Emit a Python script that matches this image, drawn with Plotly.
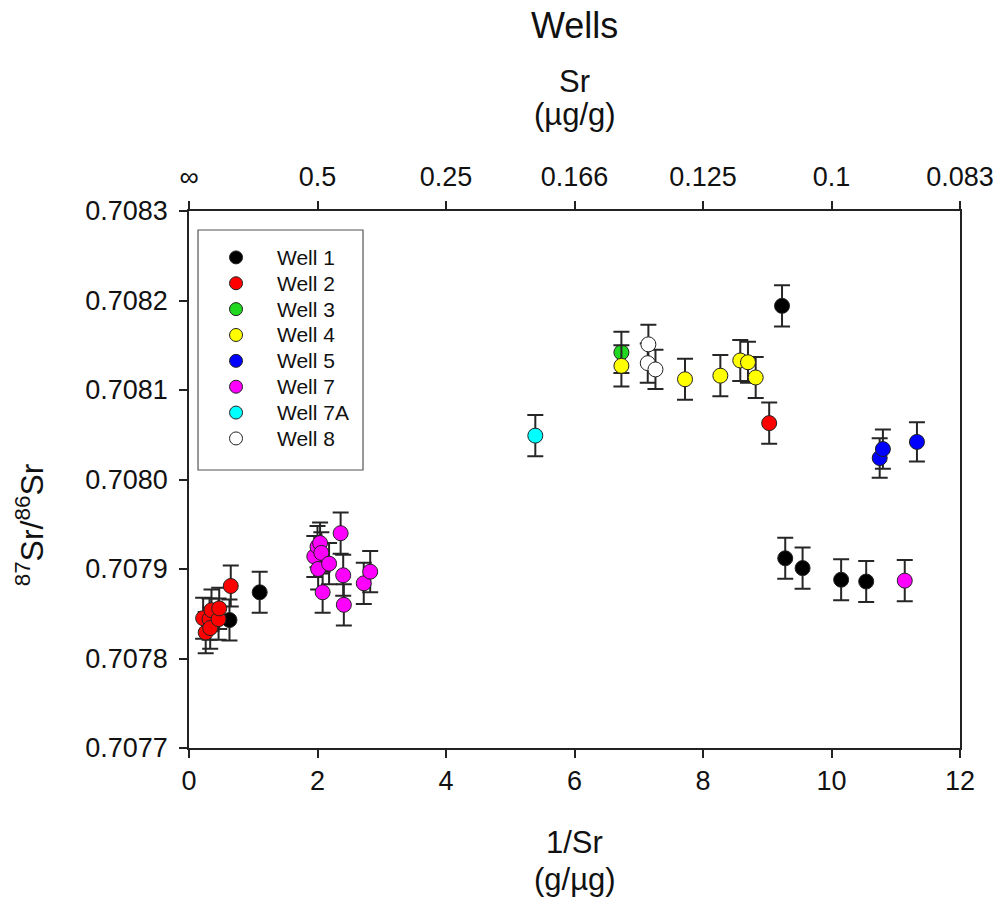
import plotly.graph_objects as go

# 1/Sr (g/ug) and 87Sr/86Sr with 1-sigma errors, per well
well1_x = [0.63, 1.10, 9.23, 9.28, 9.55, 10.15, 10.54]
well1_y = [0.707843, 0.707874, 0.708194, 0.707912, 0.707901, 0.707888, 0.707886]
well1_e = [0.000023, 0.000023, 0.000023, 0.000023, 0.000023, 0.000023, 0.000023]

well2_x = [0.22, 0.26, 0.32, 0.33, 0.35, 0.46, 0.47, 0.65, 9.03]
well2_y = [0.707845, 0.707829, 0.707844, 0.707834, 0.707854, 0.707844, 0.707856, 0.707881, 0.708063]
well2_e = [0.000023] * 9

well3_x = [6.73]
well3_y = [0.708142]
well3_e = [0.000023]

well4_x = [6.73, 7.72, 8.27, 8.58, 8.70, 8.82]
well4_y = [0.708127, 0.708112, 0.708116, 0.708133, 0.708131, 0.708114]
well4_e = [0.000023] * 6

well5_x = [10.75, 10.80, 11.33]
well5_y = [0.708024, 0.708034, 0.708042]
well5_e = [0.000022, 0.000022, 0.000022]

well7_x = [1.95, 2.00, 2.01, 2.04, 2.06, 2.08, 2.18, 2.36, 2.40, 2.41, 2.72, 2.82, 11.14]
well7_y = [0.707914, 0.707925, 0.707900, 0.707929, 0.707918, 0.707874, 0.707906,
           0.707940, 0.707893, 0.707860, 0.707884, 0.707897, 0.707887]
well7_e = [0.000023] * 13

well7a_x = [5.39]
well7a_y = [0.708049]
well7a_e = [0.000023]

well8_x = [7.14, 7.15, 7.26]
well8_y = [0.708130, 0.708151, 0.708123]
well8_e = [0.000022, 0.000022, 0.000022]

x_ticks = [0, 2, 4, 6, 8, 10, 12]
sr_tick_labels = ["∞", "0.5", "0.25", "0.166", "0.125", "0.1", "0.083"]
y_ticks = [0.7077, 0.7078, 0.7079, 0.7080, 0.7081, 0.7082, 0.7083]

series = [
    ("Well 1", well1_x, well1_y, well1_e, "#000000"),
    ("Well 2", well2_x, well2_y, well2_e, "#ff0000"),
    ("Well 3", well3_x, well3_y, well3_e, "#1fd81f"),
    ("Well 4", well4_x, well4_y, well4_e, "#ffff00"),
    ("Well 5", well5_x, well5_y, well5_e, "#0000ff"),
    ("Well 7", well7_x, well7_y, well7_e, "#ff00ff"),
    ("Well 7A", well7a_x, well7a_y, well7a_e, "#00ffff"),
    ("Well 8", well8_x, well8_y, well8_e, "#ffffff"),
]

FONT = "Liberation Sans, Arial, sans-serif"
INK = "#222222"
TXT = "#111111"

fig = go.Figure()
for name, xs, ys, es, color in series:
    fig.add_trace(go.Scatter(
        x=xs, y=ys, mode="markers", name=name, showlegend=False,
        marker=dict(size=15, color=color, line=dict(color="#222222", width=1)),
        error_y=dict(type="data", array=es, visible=True, color="#262626",
                     thickness=2, width=8),
    ))

# invisible trace that carries the top Sr axis
fig.add_trace(go.Scatter(x=[x_ticks[0], x_ticks[-1]], y=[y_ticks[0], y_ticks[0]],
                         xaxis="x2", mode="markers", marker=dict(opacity=0),
                         showlegend=False, hoverinfo="skip"))

axis_common = dict(showline=True, linecolor=INK, linewidth=1.5, ticks="outside",
                   ticklen=8, tickwidth=1.5, tickcolor=INK, showgrid=False,
                   zeroline=False, automargin=False,
                   tickfont=dict(family=FONT, size=27, color=TXT))


def label(text, x, y, size, angle=0, xanchor="center"):
    return dict(text=text, xref="paper", yref="paper", x=x, y=y,
                xanchor=xanchor, yanchor="middle", textangle=angle,
                showarrow=False, font=dict(family=FONT, size=size, color=TXT))


# boxed key in the upper-left corner of the plot area
key_box = dict(type="rect", xref="paper", yref="paper",
               x0=0.0117, x1=0.2257, y0=0.5177, y1=0.9646,
               line=dict(color="#555555", width=1.2), fillcolor="rgba(0,0,0,0)")
key_top, key_step = 0.9136, 0.04816
key_shapes, key_labels = [], []
for i, (name, _, _, _, color) in enumerate(series):
    yk = key_top - i * key_step
    key_shapes.append(dict(type="circle", xref="paper", yref="paper",
                           xsizemode="pixel", ysizemode="pixel",
                           xanchor=0.061, yanchor=yk, x0=-6.5, x1=6.5, y0=-6.5, y1=6.5,
                           fillcolor=color, line=dict(color="#222222", width=1)))
    key_labels.append(label(name, 0.1115, yk, 21, xanchor="left"))

fig.update_layout(
    width=1000, height=905,
    margin=dict(l=189, r=40, t=211, b=157),
    paper_bgcolor="white", plot_bgcolor="white",
    font=dict(family=FONT, color=TXT),
    showlegend=False,
    xaxis=dict(range=[0, 12], tickvals=x_ticks, mirror=True, **axis_common),
    xaxis2=dict(range=[0, 12], tickvals=x_ticks, ticktext=sr_tick_labels,
                overlaying="x", side="top", ticklabelstandoff=4, **axis_common),
    yaxis=dict(range=[0.7077, 0.7083], tickvals=y_ticks, tickformat=".4f",
               mirror=True, ticklabelstandoff=6, **axis_common),
    shapes=[key_box] + key_shapes,
    annotations=[
        label("Wells", 0.5, 1.346, 36),
        label("Sr", 0.5, 1.242, 31),
        label("(µg/g)", 0.5, 1.1806, 31),
        label("1/Sr", 0.5, -0.1769, 31),
        label("(g/µg)", 0.5, -0.244, 31),
        label("<sup>87</sup>Sr/<sup>86</sup>Sr", -0.2060, 0.415, 32, angle=-90),
    ] + key_labels,
)

fig.write_html("out.html")
